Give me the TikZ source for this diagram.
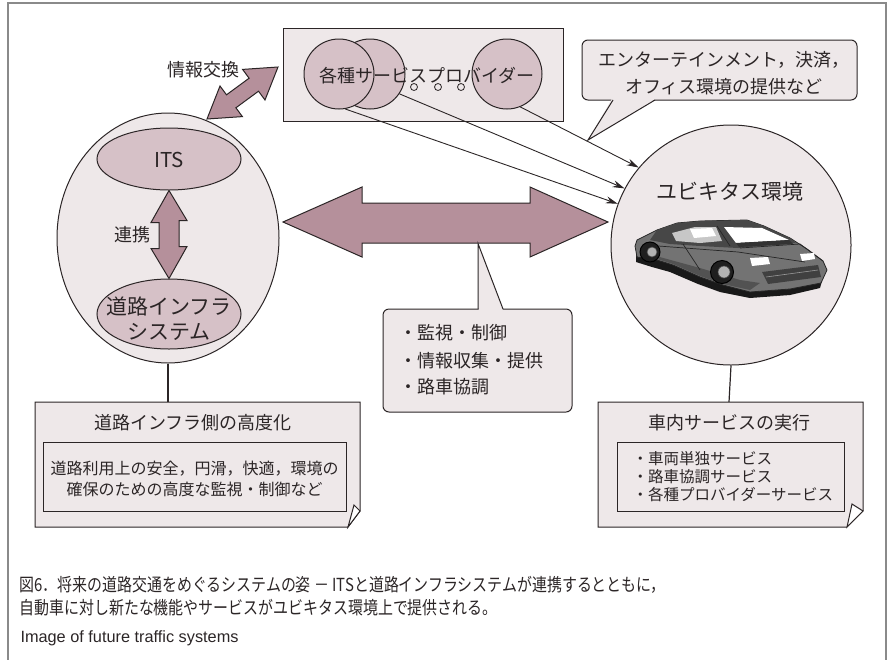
\documentclass[tikz,border=0pt]{standalone}
\usepackage{fontspec}
\setmainfont{Noto Sans CJK JP}
\newfontfamily\capfont{Liberation Sans}
\usetikzlibrary{shapes.geometric,arrows.meta,calc}

\definecolor{paleroz}{HTML}{EEE8E9}
\definecolor{midroz}{HTML}{D6C1C7}
\definecolor{arrowroz}{HTML}{B5909B}
\definecolor{ink}{HTML}{2B2526}
\definecolor{framegray}{HTML}{8A8A8A}

\begin{document}
\begin{tikzpicture}[x=1pt,y=-1pt,line width=1pt,
  outline/.style={draw=ink,line width=1pt},
  palefill/.style={outline,fill=paleroz},
  midfill/.style={outline,fill=midroz},
  fatarrow/.style={outline,fill=arrowroz,line join=miter},
  lbl/.style={inner sep=0pt,text=ink},
  f18/.style={lbl,font=\fontsize{18}{22}\selectfont},
  f21/.style={lbl,font=\fontsize{21}{27}\selectfont},
  f16/.style={lbl,font=\fontsize{16}{19}\selectfont},
  f15/.style={lbl,font=\fontsize{15.5}{18}\selectfont},
  capjp/.style={lbl,anchor=west,font=\fontsize{18}{22}\selectfont},
  feed/.style={draw=ink,line width=0.9pt,-{Stealth[length=12pt,width=7pt]}},
  stem/.style={draw=ink,line width=1.2pt},
  carline/.style={draw=black!85,line width=0.7pt}]
\useasboundingbox (0,0) rectangle (890,659);

% outer frame
\draw[framegray,line width=1.3pt] (8,662) -- (8,3) -- (886,3) -- (886,662);

% ---------- service provider box ----------
\node[palefill,minimum width=280pt,minimum height=93pt,inner sep=0] (prov) at (423,74.5) {};
\node[midfill,circle,minimum size=70pt,inner sep=0] (p2) at (370,74) {};
\node[midfill,circle,minimum size=70pt,inner sep=0] (p1) at (339,74) {};
\node[midfill,circle,minimum size=70pt,inner sep=0] (p3) at (507,74) {};
\foreach \cx [count=\k] in {414,438,461}
  \node[draw=ink,fill=paleroz,circle,minimum size=7pt,inner sep=0,line width=0.8pt] (dot\k) at (\cx,87) {};
\node[f18] (provtxt) at (427,76) {各種サービスプロバイダー};

% ---------- left system ellipse ----------
\node[palefill,ellipse,minimum width=222pt,minimum height=250pt,inner sep=0] (leftc) at (168,238) {};
\node[midfill,ellipse,minimum width=144pt,minimum height=62pt,inner sep=0] (its) at (169,159) {};
\node[lbl,font=\fontsize{20.5}{24}\selectfont] (itstxt) at (169,160) {ITS};
\node[midfill,ellipse,minimum width=144pt,minimum height=70pt,inner sep=0] (road) at (169,314) {};
\node[lbl,align=center,font=\fontsize{21}{25}\selectfont] (roadtxt) at (169,319) {道路インフラ\\システム};

% cooperation arrow between ITS and road infrastructure
\draw[fatarrow] (its.south) -- ++(18,30) -- ++(-8,0) -- ++(0,26) -- ++(8,0)
  -- (road.north) -- ++(-18,-30) -- ++(8,0) -- ++(0,-26) -- ++(-8,0) -- cycle;
\node[f18] (coop) at (132,235) {連携};

% information exchange arrow
\draw[fatarrow] (207,119) -- (242.4,116.6) -- (235.9,107.8) -- (258.5,91.2)
  -- (265.0,100.0) -- (278,67) -- (242.6,69.4) -- (249.1,78.2)
  -- (226.5,94.8) -- (220.0,86.0) -- cycle;
\node[f18] (xchg) at (203,70) {情報交換};

% ---------- ubiquitous environment ----------
\node[palefill,circle,minimum size=240pt,inner sep=0] (ubi) at (731,245) {};
\node[f21] (ubitxt) at (730,192) {ユビキタス環境};

% sports car, three-quarter view
\begin{scope}
  % ground shadow
  \fill[black!90] (636,255) -- (657,259) -- (673,264) -- (700,276) -- (723,284)
    -- (750,291) -- (790,288) -- (822,281) -- (820,288) -- (790,295) -- (750,298)
    -- (720,292) -- (698,284) -- (670,272) -- (652,267) -- (636,262) -- cycle;
  % body
  \filldraw[fill=black!55,draw=black!85,line width=0.8pt]
    (635,246) -- (637,240) -- (657,230) -- (677,223) -- (700,221) -- (747,220)
    -- (764,226) -- (790,238) -- (807,249) -- (823,261) -- (827,270) -- (821,283)
    -- (790,289) -- (750,292) -- (723,285) -- (700,277) -- (673,265) -- (657,260)
    -- (637,257) -- cycle;
  % roof and pillars
  \fill[black!72] (657,230) -- (677,223) -- (700,221) -- (747,220) -- (764,226)
    -- (790,238) -- (796,243) -- (738,248) -- (700,246) -- (670,244) -- (650,240) -- cycle;
  % side window
  \fill[black!22] (672,233) -- (695,227) -- (716,227) -- (722,241) -- (700,243) -- (676,241) -- cycle;
  \fill[white] (690,229) -- (712,228) -- (716,236) -- (694,238) -- cycle;
  % windscreen
  \fill[white] (724,227) -- (762,228) -- (789,240) -- (736,243) -- cycle;
  \fill[black!80] (736,243) -- (789,240) -- (793,244) -- (739,247) -- cycle;
  \draw[carline] (717,226) -- (730,246);
  % side skirt, door and crease lines
  \fill[black!68] (645,253) -- (700,268) -- (740,280) -- (760,283) -- (750,290)
    -- (723,284) -- (700,276) -- (673,264) -- (657,259) -- cycle;
  \draw[carline] (683,244) -- (700,270);
  \draw[carline] (645,245) -- (738,252) -- (805,262);
  \draw[carline] (740,248) -- (800,244) -- (823,261);
  % headlights
  \fill[white] (750,258) -- (768,257) -- (770,264) -- (752,266) -- cycle;
  \fill[white] (800,254) -- (814,253) -- (815,259) -- (802,261) -- cycle;
  % front intake
  \fill[black!75] (762,272) -- (818,265) -- (821,277) -- (768,284) -- cycle;
  \draw[black!40,line width=0.6pt] (766,277) -- (818,270);
  % wheels
  \filldraw[fill=black!88,draw=black] (722,272) circle (11.5pt);
  \filldraw[fill=black!30,draw=black!70,line width=0.6pt] (724,272) circle (6pt);
  \filldraw[fill=black!88,draw=black] (650,252) circle (10pt);
  \filldraw[fill=black!30,draw=black!70,line width=0.6pt] (652,252) circle (5pt);
\end{scope}

% service feeds into the ubiquitous environment
\draw[feed] (p1.-80) -- (ubi.160);
\draw[feed] (p2.-34) -- (ubi.152);
\draw[feed] (p3.-68) -- (ubi.140);

% services callout
\node[palefill,rounded corners=6pt,minimum width=275pt,minimum height=60pt,inner sep=0] (svc) at (719.5,70) {};
\fill[paleroz] (612,98.6) -- (656,98.6) -- (588,140) -- cycle;
\draw[outline,line join=miter] (613,100) -- (588,140) -- (655,100);
\node[lbl,align=center,font=\fontsize{18}{27}\selectfont] (svctxt) at (724,73.5)
  {エンターテインメント，決済，\\オフィス環境の提供など};

% ---------- central double arrow ----------
\draw[fatarrow] (283,222) -- (362,187) -- (362,203) -- (530,203) -- (530,187)
  -- (608,222) -- (530,257) -- (530,243) -- (362,243) -- (362,257) -- cycle;
\coordinate (midtip) at (478,243.5);

% functions callout
\node[palefill,rounded corners=6pt,minimum width=189pt,minimum height=103pt,inner sep=0] (fn) at (477.5,360.5) {};
\fill[paleroz] (478.5,310.4) -- (478.5,244) -- (503,310.4) -- cycle;
\draw[outline,line join=miter] (478,309) -- (midtip) -- (503,309);
\node[f18,anchor=west] (fn1) at (399,333) {・監視・制御};
\node[f18,anchor=west] (fn2) at (399,361) {・情報収集・提供};
\node[f18,anchor=west] (fn3) at (399,387) {・路車協調};

% ---------- left note ----------
\coordinate (lnote) at (168,402);
\draw[stem] (leftc.south) -- (lnote);
\path[palefill,line join=miter] (35,402) -- (360,402) -- (360,511) -- (348,527) -- (35,527) -- cycle;
\path[outline,fill=white,line join=miter] (348,527) -- (354,505) -- (360,511) -- cycle;
\node[f18] (lnotet) at (193,423) {道路インフラ側の高度化};
\node[palefill,minimum width=303pt,minimum height=69pt,inner sep=0] (lin) at (194.5,476.5) {};
\node[f16] (lin1) at (194.5,469) {道路利用上の安全，円滑，快適，環境の};
\node[f16] (lin2) at (194.5,489) {確保のための高度な監視・制御など};

% ---------- right note ----------
\coordinate (rnote) at (729,402);
\draw[stem] (ubi.south) -- (rnote);
\path[palefill,line join=miter] (598,402) -- (863,402) -- (863,511) -- (847,527) -- (598,527) -- cycle;
\path[outline,fill=white,line join=miter] (847,527) -- (852,504) -- (863,511) -- cycle;
\node[f18] (rnotet) at (729,423) {車内サービスの実行};
\node[palefill,minimum width=227pt,minimum height=69pt,inner sep=0] (rin) at (730.5,476.5) {};
\node[f15,anchor=west] (rin1) at (632,459) {・車両単独サービス};
\node[f15,anchor=west] (rin2) at (632,477) {・路車協調サービス};
\node[f15,anchor=west] (rin3) at (632,495) {・各種プロバイダーサービス};

% ---------- caption ----------
\node[capjp] (cap1) at (19,585)
  {\scalebox{0.83}[1]{図6．将来の道路交通をめぐるシステムの姿 － ITSと道路インフラシステムが連携するとともに，}};
\node[capjp] (cap2) at (19,608)
  {\scalebox{0.83}[1]{自動車に対し新たな機能やサービスがユビキタス環境上で提供される。}};
\node[lbl,anchor=west,font=\capfont\fontsize{16.3}{19}\selectfont] (cap3) at (20,638)
  {Image of future traffic systems};
\end{tikzpicture}
\end{document}
